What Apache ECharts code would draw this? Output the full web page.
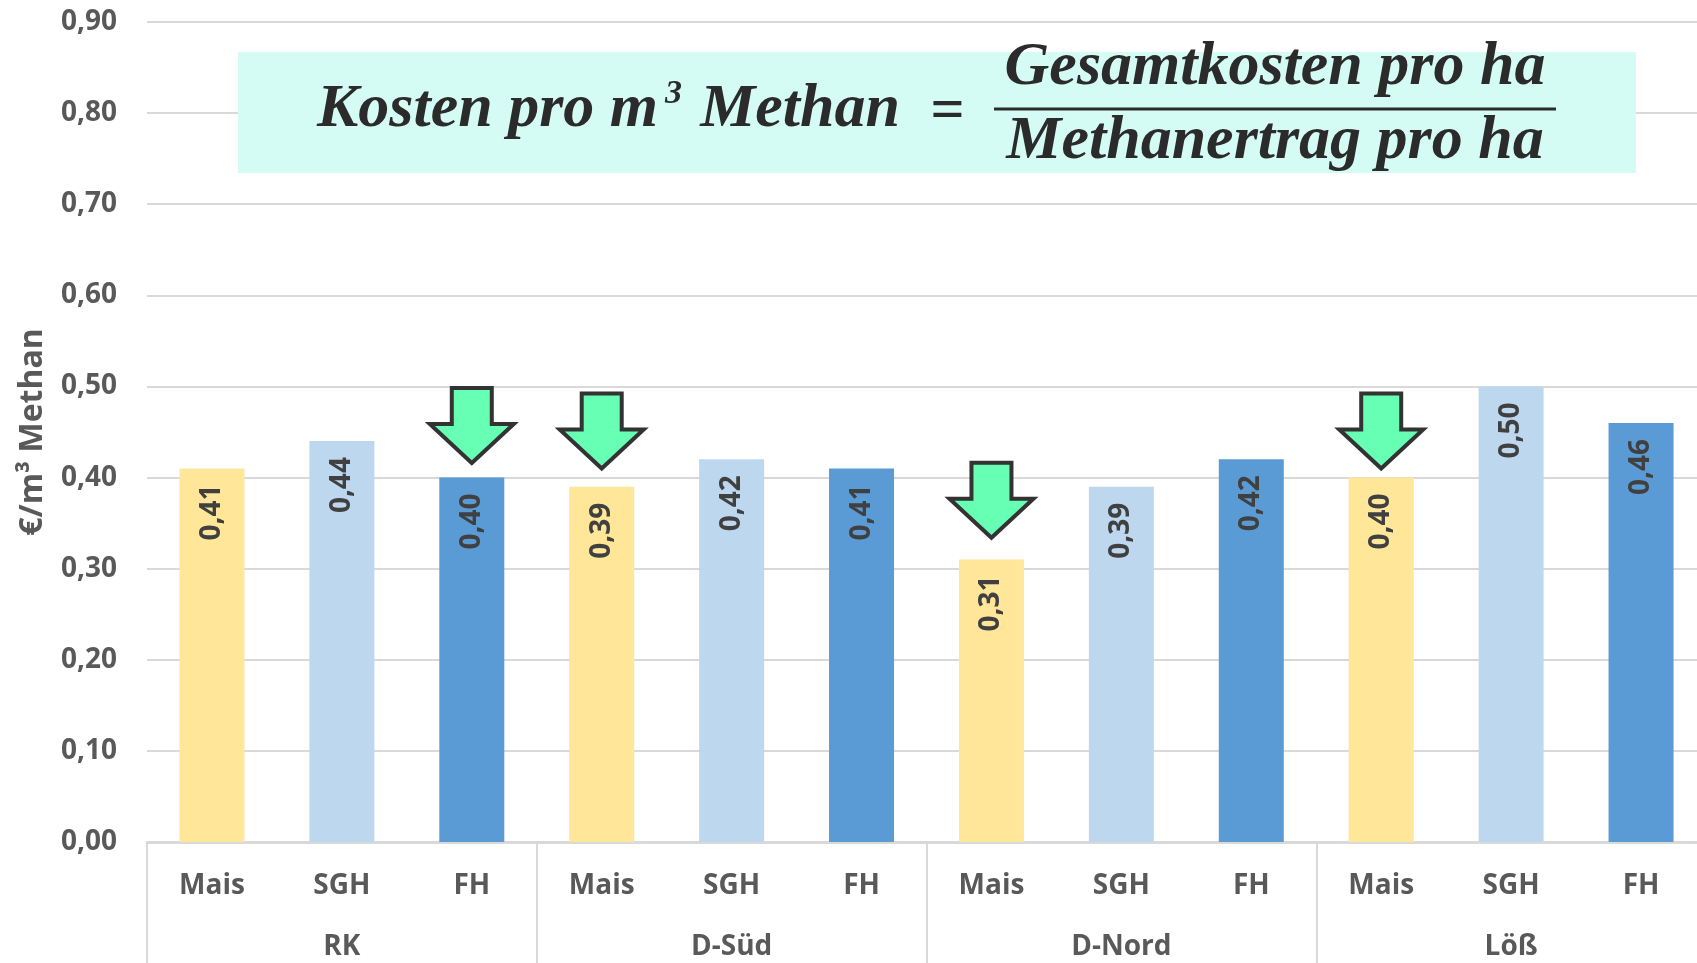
<!DOCTYPE html>
<html>
<head>
<meta charset="UTF-8">
<title>Kosten pro m3 Methan</title>
<script src="https://cdn.jsdelivr.net/npm/echarts@6/dist/echarts.min.js"></script>
<style>
	html, body { margin: 0; padding: 0; background: #fff; }
	#chart { width: 1697px; height: 963px; }
</style>
</head>
<body>
<div id="chart"></div>
<script>
	// Daten
	var crops = ['Mais', 'SGH', 'FH', 'Mais', 'SGH', 'FH', 'Mais', 'SGH', 'FH', 'Mais', 'SGH', 'FH'];
	var regions = ['RK', 'D-Süd', 'D-Nord', 'Löß'];
	var kosten = [0.41, 0.44, 0.40, 0.39, 0.42, 0.41, 0.31, 0.39, 0.42, 0.40, 0.50, 0.46];
	var cropColors = { 'Mais': '#FFE699', 'SGH': '#BDD7EE', 'FH': '#5B9BD5' };

	// Pfeile: Balken-Index und Wert der Pfeilspitze
	var arrowBars = [2, 3, 6, 9];
	var arrowTips = [0.416, 0.41, 0.334, 0.41];

	var axisFont = 'Open Sans';
	var grey = '#595959';

	function fmt(v) {
		return v.toFixed(2).replace('.', ',');
	}

	var barData = [];
	for (var i = 0; i < kosten.length; i++) {
		barData.push({ value: kosten[i], itemStyle: { color: cropColors[crops[i]] } });
	}

	var arrowData = [];
	for (var j = 0; j < arrowBars.length; j++) {
		arrowData.push([arrowBars[j], arrowTips[j]]);
	}

	function renderArrow(params, api) {
		var p = api.coord([api.value(0), api.value(1)]);
		var x = p[0], y = p[1];
		var hw = 42, sw = 20, hh = 39, sh = 36;
		return {
			type: 'polygon',
			shape: {
				points: [
					[x - sw, y - hh - sh], [x + sw, y - hh - sh], [x + sw, y - hh],
					[x + hw, y - hh], [x, y], [x - hw, y - hh], [x - sw, y - hh]
				]
			},
			style: { fill: '#66FFB3', stroke: '#333333', lineWidth: 4, lineJoin: 'miter' }
		};
	}

	var serif = '"Liberation Serif", serif';
	var ink = '#2b2b2b';

	function formulaText(txt, x, y, size, align, valign) {
		return {
			type: 'text', z: 101, x: x, y: y,
			style: {
				text: txt, fill: ink,
				font: 'italic bold ' + size + 'px ' + serif,
				align: align, verticalAlign: valign,
				textAlign: align, textVerticalAlign: valign
			}
		};
	}

	var option = {
		animation: false,
		backgroundColor: '#ffffff',
		grid: { left: 147, right: -9, top: 22, bottom: 121, outerBoundsMode: 'none', containLabel: false },
		xAxis: [
			{
				type: 'category',
				data: crops,
				axisLine: { show: true, lineStyle: { color: '#D9D9D9', width: 3 } },
				axisTick: { show: false },
				axisLabel: {
					interval: 0, margin: 30,
					color: grey, fontFamily: axisFont, fontWeight: 'bold', fontSize: 28
				}
			},
			{
				type: 'category',
				position: 'bottom',
				data: regions,
				axisLine: { show: false },
				axisTick: { show: true, interval: 0, length: 121, lineStyle: { color: '#D9D9D9', width: 2 } },
				axisLabel: {
					interval: 0, margin: 91,
					color: grey, fontFamily: axisFont, fontWeight: 'bold', fontSize: 28
				}
			}
		],
		yAxis: {
			type: 'value',
			min: 0, max: 0.9, interval: 0.1,
			name: '€/m³ Methan',
			nameLocation: 'middle',
			nameGap: 98,
			nameRotate: 90,
			nameMoveOverlap: false,
			nameTextStyle: { color: grey, fontFamily: axisFont, fontWeight: 'bold', fontSize: 32 },
			axisLine: { show: false },
			axisTick: { show: false },
			splitLine: { lineStyle: { color: '#D9D9D9', width: 2 } },
			axisLabel: {
				margin: 30,
				color: grey, fontFamily: axisFont, fontWeight: 'bold', fontSize: 28,
				formatter: function (v) { return fmt(v); }
			}
		},
		series: [
			{
				type: 'bar',
				data: barData,
				barWidth: 65,
				label: {
					show: true,
					position: 'insideTop',
					rotate: 90,
					align: 'right',
					verticalAlign: 'middle',
					distance: 16,
					color: '#404040',
					fontFamily: axisFont, fontWeight: 'bold', fontSize: 28,
					formatter: function (p) { return fmt(p.value); }
				}
			},
			{
				type: 'custom',
				data: arrowData,
				renderItem: renderArrow,
				z: 10
			}
		],
		graphic: [
			{ type: 'rect', z: 100, shape: { x: 238, y: 52, width: 1398, height: 121 }, style: { fill: '#D5FCF4' } },
			formulaText('Kosten pro m', 317, 110, 62, 'left', 'middle'),
			formulaText('3', 665, 77, 34, 'left', 'top'),
			formulaText('Methan', 900, 110, 62, 'right', 'middle'),
			formulaText('=', 947, 112, 60, 'center', 'middle'),
			formulaText('Gesamtkosten pro ha', 1275, 68, 62, 'center', 'middle'),
			formulaText('Methanertrag pro ha', 1275, 142, 62, 'center', 'middle'),
			{ type: 'line', z: 101, shape: { x1: 994, y1: 109, x2: 1556, y2: 109 }, style: { stroke: ink, lineWidth: 3 } }
		]
	};

	var chart = echarts.init(document.getElementById('chart'));
	chart.setOption(option);
</script>
</body>
</html>
